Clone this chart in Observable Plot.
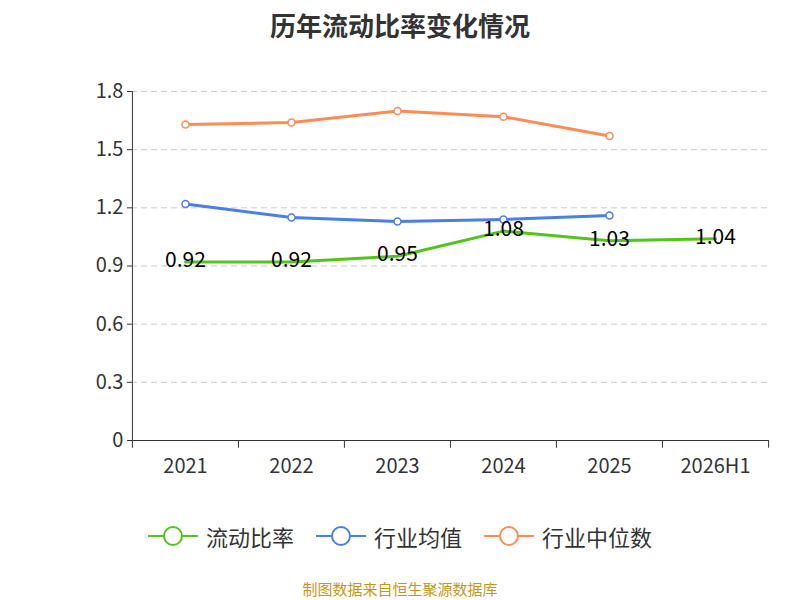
<!DOCTYPE html>
<html><head><meta charset="utf-8">
<script src="https://cdn.jsdelivr.net/npm/d3@7"></script>
<script src="https://cdn.jsdelivr.net/npm/@observablehq/plot@0.6"></script>
<style>
body{margin:0;font-family:"Noto Sans CJK SC","Noto Sans",sans-serif;}
#wrap{position:relative;width:800px;height:600px;}
#title{position:absolute;top:6px;width:800px;text-align:center;font-size:26px;font-weight:bold;color:#333;}
#legend{position:absolute;top:520px;width:800px;display:flex;justify-content:center;gap:22px;font-size:22px;color:#333;}
#legend span{display:flex;align-items:center;gap:8px;}
#cap{position:absolute;top:578px;width:800px;text-align:center;font-size:15px;color:#c8961e;}
svg{position:absolute;top:0;left:0;}
</style></head><body>
<div id="wrap"><div id="title">历年流动比率变化情况</div><div id="legend"></div><div id="cap">制图数据来自恒生聚源数据库</div></div>
<script>
const years=["2021","2022","2023","2024","2025","2026H1"];
const ratio=[0.92,0.92,0.95,1.08,1.03,1.04];
const avg=[1.22,1.15,1.13,1.14,1.16];
const med=[1.63,1.64,1.70,1.67,1.57];
const yTicks=[0,0.3,0.6,0.9,1.2,1.5,1.8];
const colors={"流动比率":"#52c41a","行业均值":"#4a7ee8","行业中位数":"#ff8c55"};
const mk=(arr,name)=>arr.map((v,i)=>({x:years[i],y:v,s:name}));
const dR=mk(ratio,"流动比率"),dA=mk(avg,"行业均值"),dM=mk(med,"行业中位数");
const bw=(768-131)/6;
const plot=Plot.plot({
 width:800,height:600,marginTop:91,marginBottom:160,marginLeft:131,marginRight:32,
 x:{domain:years,padding:0,axis:null},
 y:{domain:[0,1.8],axis:null},
 style:{fontFamily:"Noto Sans CJK SC, sans-serif"},
 marks:[
  Plot.ruleY(yTicks.filter(d=>d>0),{stroke:"#ccc",strokeDasharray:"6,4"}),
  Plot.ruleY([0],{stroke:"#333"}),
  Plot.ruleX([years[0]],{dx:-bw/2,stroke:"#333"}),
  Plot.tickY(yTicks,{y:d=>d,x:()=>years[0],dx:-bw,insetLeft:bw-5,stroke:"#333"}),
  Plot.text(yTicks,{y:d=>d,x:()=>years[0],dx:-bw/2-9,text:d=>String(d),textAnchor:"end",fontSize:20,fill:"#333"}),
  Plot.ruleX(years,{x:d=>d,y1:0,y2:-0.04,dx:-bw/2,stroke:"#333"}),
  Plot.ruleX([years[5]],{x:d=>d,y1:0,y2:-0.04,dx:bw/2,stroke:"#333"}),
  Plot.text(years,{x:d=>d,y:0,dy:26,text:d=>d,fontSize:20,fill:"#333"}),
  ...[dR,dA,dM].map(d=>Plot.line(d,{x:"x",y:"y",stroke:colors[d[0].s],strokeWidth:3})),
  ...[dA,dM].map(d=>Plot.dot(d,{x:"x",y:"y",r:3.5,fill:"white",stroke:colors[d[0].s],strokeWidth:1.5})),
  Plot.text(dR,{x:"x",y:"y",text:d=>d.y.toFixed(2),fontSize:21,fill:"#000",dy:-2})
 ]
});
document.getElementById("wrap").prepend(plot);
const lg=document.getElementById("legend");
for(const [k,c] of Object.entries(colors)){
 lg.insertAdjacentHTML("beforeend",`<span><svg width="50" height="24" style="position:static"><line x1="0" y1="12" x2="50" y2="12" stroke="${c}" stroke-width="2"/><circle cx="25" cy="12" r="9" fill="white" stroke="${c}" stroke-width="2"/></svg>${k}</span>`);
}
</script></body></html>
